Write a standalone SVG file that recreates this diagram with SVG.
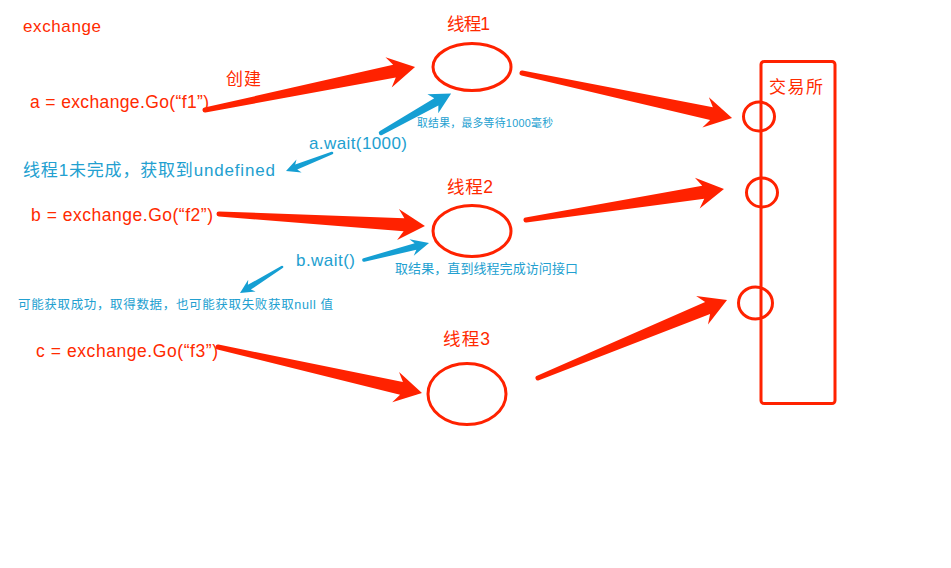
<svg xmlns="http://www.w3.org/2000/svg" width="951" height="568" viewBox="0 0 951 568">
<style>
.r{fill:#ff2a00;font-family:"Liberation Sans","Noto Sans CJK SC",sans-serif}
.b{fill:#22a0d0;font-family:"Liberation Sans","Noto Sans CJK SC",sans-serif}
.ra{fill:#ff2200}
.ba{fill:#159fd3}
.node{fill:none;stroke:#ff2200;stroke-width:3}
</style>
<rect width="951" height="568" fill="#ffffff"/>
<g id="connectors">
<path class="ra" transform="translate(205,110) rotate(-11.57)" d="M0,-2.5 L193.4,-6.5 L187.4,-15.5 L214.4,0 L187.4,15.5 L193.4,6.5 L0,2.5 A2.5,2.5 0 0 1 0,-2.5 Z"/>
<path class="ra" transform="translate(522,73) rotate(12.09)" d="M0,-2.5 L193.8,-6.5 L187.8,-15.5 L214.8,0 L187.8,15.5 L193.8,6.5 L0,2.5 A2.5,2.5 0 0 1 0,-2.5 Z"/>
<path class="ra" transform="translate(219,214) rotate(3.33)" d="M0,-2.5 L185.3,-6.5 L179.3,-15.5 L206.3,0 L179.3,15.5 L185.3,6.5 L0,2.5 A2.5,2.5 0 0 1 0,-2.5 Z"/>
<path class="ra" transform="translate(526,220) rotate(-8.9)" d="M0,-2.5 L179.4,-6.5 L173.4,-15.5 L200.4,0 L173.4,15.5 L179.4,6.5 L0,2.5 A2.5,2.5 0 0 1 0,-2.5 Z"/>
<path class="ra" transform="translate(218,347) rotate(12.7)" d="M0,-2.5 L188.1,-6.5 L182.1,-15.5 L209.1,0 L182.1,15.5 L188.1,6.5 L0,2.5 A2.5,2.5 0 0 1 0,-2.5 Z"/>
<path class="ra" transform="translate(538,378) rotate(-22.43)" d="M0,-2.5 L183.5,-6.5 L177.5,-15.5 L204.5,0 L177.5,15.5 L183.5,6.5 L0,2.5 A2.5,2.5 0 0 1 0,-2.5 Z"/>
<path class="ba" transform="translate(381,133) rotate(-29.4)" d="M0,-2.2 L63.5,-4.2 L59.5,-11 L80.5,0 L59.5,11 L63.5,4.2 L0,2.2 A2.2,2.2 0 0 1 0,-2.2 Z"/>
<path class="ba" transform="translate(332,153) rotate(158.6)" d="M0,-1.3 L38.4,-2.8 L35.4,-7 L49.4,0 L35.4,7 L38.4,2.8 L0,1.3 A1.3,1.3 0 0 1 0,-1.3 Z"/>
<path class="ba" transform="translate(364,260) rotate(-14.66)" d="M0,-1.8 L53.2,-3.4 L49.2,-8.5 L67.2,0 L49.2,8.5 L53.2,3.4 L0,1.8 A1.8,1.8 0 0 1 0,-1.8 Z"/>
<path class="ba" transform="translate(282,267) rotate(148.2)" d="M0,-1.3 L38.4,-2.8 L35.4,-7 L49.4,0 L35.4,7 L38.4,2.8 L0,1.3 A1.3,1.3 0 0 1 0,-1.3 Z"/>
</g>
<g id="title"><text class="r" x="23" y="32" font-size="17" textLength="78">exchange</text></g>
<g id="go-a"><text class="r" x="30" y="108" font-size="17.5" textLength="179">a = exchange.Go(“f1”)</text></g>
<g id="create-label"><text class="r" x="226" y="85" font-size="17" textLength="35">创建</text></g>
<g id="go-b"><text class="r" x="31" y="221" font-size="17.5" textLength="182">b = exchange.Go(“f2”)</text></g>
<g id="go-c"><text class="r" x="36" y="357" font-size="17.5" textLength="182">c = exchange.Go(“f3”)</text></g>
<g id="thread1">
<text class="r" x="447" y="30" font-size="17.5" textLength="43">线程1</text>
<ellipse class="node" cx="472" cy="67" rx="39" ry="23.5"/>
</g>
<g id="thread2">
<text class="r" x="447" y="193" font-size="17.5" textLength="46">线程2</text>
<ellipse class="node" cx="472" cy="231" rx="39" ry="25.5"/>
</g>
<g id="thread3">
<text class="r" x="443" y="345" font-size="17.5" textLength="47">线程3</text>
<ellipse class="node" cx="467" cy="394" rx="39" ry="30.5"/>
</g>
<g id="exchange-box">
<rect class="node" x="761" y="61.5" width="74" height="342" rx="3"/>
<text class="r" x="769" y="93" font-size="17" textLength="54">交易所</text>
<ellipse class="node" cx="759" cy="116.5" rx="15.5" ry="14.5"/>
<ellipse class="node" cx="762" cy="192.5" rx="15.5" ry="14.5"/>
<ellipse class="node" cx="755.5" cy="303" rx="17" ry="16"/>
</g>
<g id="wait-a">
<text class="b" x="309" y="149" font-size="17" textLength="98">a.wait(1000)</text>
<text class="b" x="417" y="127" font-size="10.8" textLength="136">取结果，最多等待1000毫秒</text>
<text class="b" x="23" y="176" font-size="17" textLength="252">线程1未完成，获取到undefined</text>
</g>
<g id="wait-b">
<text class="b" x="296" y="266" font-size="17" textLength="59">b.wait()</text>
<text class="b" x="395" y="273" font-size="13" textLength="183">取结果，直到线程完成访问接口</text>
<text class="b" x="18" y="309" font-size="12.5" textLength="315">可能获取成功，取得数据，也可能获取失败获取null 值</text>
</g>
</svg>
